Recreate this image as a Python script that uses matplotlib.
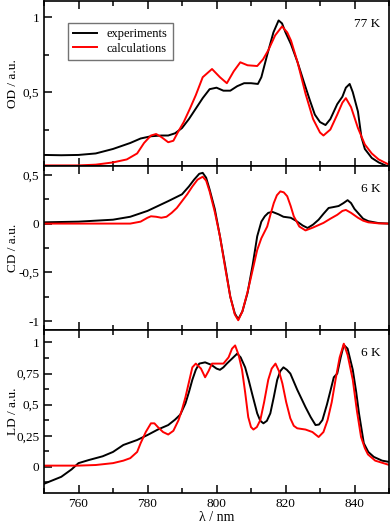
import numpy as np
import matplotlib.pyplot as plt
from matplotlib.ticker import MultipleLocator, FuncFormatter

plt.rcParams['font.family'] = 'Liberation Serif'
plt.rcParams['font.size'] = 9

# OD, 77 K
od_x_exp = [750, 755, 760, 765, 770, 775, 778, 781, 784, 786, 788, 790, 792, 794, 796, 798, 800,
            802, 804, 806, 808, 810, 812, 813, 814.7, 816.5, 818, 819, 820, 821.6, 823.5, 825.3,
            827, 828.5, 830, 831.6, 833, 835, 836.5, 837.5, 838.6, 839.5, 841, 842, 843, 845, 847, 850]
od_y_exp = [0.08, 0.078, 0.08, 0.09, 0.12, 0.16, 0.19, 0.205, 0.21, 0.21, 0.225, 0.26, 0.32, 0.39,
            0.46, 0.52, 0.53, 0.51, 0.51, 0.54, 0.56, 0.56, 0.555, 0.6, 0.75, 0.9, 0.98, 0.96, 0.9,
            0.82, 0.7, 0.57, 0.45, 0.35, 0.3, 0.28, 0.32, 0.42, 0.47, 0.53, 0.555, 0.5, 0.37, 0.2,
            0.12, 0.06, 0.03, 0.0]
od_x_calc = [750, 760, 765, 770, 774, 777, 779, 781, 782.5, 784, 786, 787.5, 789, 790.5, 792.3,
             794, 796, 798.7, 801, 803, 805, 806.9, 809, 811.8, 813.5, 815, 817, 819, 820.5, 821.6,
             823.5, 825.8, 828, 830, 831, 833, 835, 836.5, 837.5, 839, 841, 843, 845, 847, 850]
od_y_calc = [0.01, 0.01, 0.015, 0.03, 0.05, 0.09, 0.16, 0.21, 0.22, 0.2, 0.165, 0.175, 0.24, 0.3,
             0.39, 0.48, 0.6, 0.655, 0.6, 0.56, 0.64, 0.70, 0.68, 0.675, 0.72, 0.78, 0.88, 0.94,
             0.9, 0.845, 0.7, 0.49, 0.32, 0.23, 0.21, 0.25, 0.35, 0.43, 0.46, 0.4, 0.26, 0.15,
             0.09, 0.05, 0.015]

# CD, 6 K
cd_x_exp = [750, 760, 770, 775, 780, 783, 786, 790, 792, 793.5, 795, 796, 797, 798, 799.5, 801,
            802.5, 804, 805.3, 806.3, 807.5, 809, 810.5, 811.8, 813, 814, 815, 816.2, 818, 819.4,
            821.5, 823, 825, 826.4, 828, 829.6, 831, 832.5, 834, 835.4, 836.8, 838, 839, 840, 841,
            842.5, 844, 847, 850]
cd_y_exp = [0.013, 0.02, 0.04, 0.07, 0.13, 0.18, 0.23, 0.30, 0.38, 0.45, 0.51, 0.52, 0.47, 0.35,
            0.15, -0.13, -0.43, -0.75, -0.92, -0.98, -0.9, -0.71, -0.42, -0.13, 0.02, 0.075, 0.11,
            0.12, 0.095, 0.07, 0.06, 0.03, -0.02, -0.045, -0.01, 0.04, 0.1, 0.16, 0.17, 0.18, 0.21,
            0.24, 0.21, 0.15, 0.11, 0.05, 0.025, 0.005, 0.0]
cd_x_calc = [750, 775, 778, 780, 781, 782.5, 784, 785.5, 787, 788.5, 790, 791.5, 793, 794.5, 796,
             797, 798, 799.5, 801, 802.5, 804, 805.3, 806.3, 807.5, 809, 809.8, 811.8, 813, 814.7,
             815.7, 816.6, 817.5, 818.5, 819.5, 820.5, 821.5, 822.4, 824, 825.8, 828, 831, 833,
             835, 836.5, 837.5, 839, 841, 842.5, 844, 847, 850]
cd_y_calc = [0.0, 0.0, 0.02, 0.06, 0.075, 0.07, 0.06, 0.07, 0.11, 0.16, 0.23, 0.3, 0.38, 0.45,
             0.48, 0.44, 0.33, 0.12, -0.13, -0.45, -0.75, -0.93, -0.99, -0.9, -0.7, -0.58, -0.27,
             -0.15, -0.03, 0.1, 0.21, 0.29, 0.33, 0.32, 0.28, 0.18, 0.075, -0.03, -0.07, -0.04,
             0.007, 0.05, 0.09, 0.13, 0.14, 0.11, 0.06, 0.03, 0.013, 0.002, 0.0]

# LD, 6 K
ld_x_exp = [750, 755, 758, 760, 763, 767, 770, 773, 777, 780, 783, 786, 788, 789.5, 791, 792, 793,
            794, 795, 796.7, 798.5, 800, 801, 802, 803, 804.5, 806, 807, 808.3, 809.3, 810.3,
            811.8, 812.7, 813.6, 814.6, 815.6, 816.6, 817.6, 818.5, 819.4, 820.4, 821.4, 823.4,
            825.8, 827.3, 828.7, 829.7, 830.7, 832, 833.1, 834, 835, 836, 836.9, 838, 839.5,
            840.5, 841.3, 842.7, 844, 845.6, 848, 850]
ld_y_exp = [-0.136, -0.08, -0.02, 0.03, 0.055, 0.085, 0.12, 0.176, 0.216, 0.256, 0.30, 0.336, 0.38,
            0.42, 0.51, 0.6, 0.70, 0.78, 0.83, 0.84, 0.82, 0.79, 0.78, 0.80, 0.83, 0.87, 0.91,
            0.88, 0.80, 0.7, 0.59, 0.43, 0.37, 0.35, 0.37, 0.43, 0.56, 0.70, 0.77, 0.80, 0.78,
            0.75, 0.62, 0.48, 0.4, 0.336, 0.34, 0.376, 0.5, 0.62, 0.72, 0.75, 0.88, 0.98, 0.95,
            0.78, 0.6, 0.43, 0.19, 0.12, 0.08, 0.05, 0.04]
ld_x_calc = [750, 760, 765, 770, 773, 775, 777, 778, 779.5, 781, 782, 783, 784.5, 786, 787.5, 789,
             790, 791, 792, 793, 794, 795.5, 796.7, 797.7, 798.7, 800, 802, 803.5, 804.5, 805.4,
             806.4, 807.4, 808.3, 809.2, 810, 810.7, 811.7, 812.7, 813.8, 815, 816, 817.1, 818.1,
             819.1, 820.2, 821.4, 822.4, 823.4, 825.8, 827.8, 829.6, 831, 832.2, 833.4, 834.5,
             835.7, 836.9, 838, 839.5, 840.7, 841.9, 843, 843.9, 846, 850]
ld_y_calc = [0.01, 0.01, 0.015, 0.03, 0.05, 0.07, 0.12, 0.19, 0.28, 0.35, 0.35, 0.32, 0.28, 0.26,
             0.29, 0.376, 0.46, 0.56, 0.68, 0.80, 0.83, 0.79, 0.72, 0.77, 0.83, 0.83, 0.83, 0.88,
             0.95, 0.976, 0.9, 0.78, 0.6, 0.40, 0.32, 0.30, 0.32, 0.376, 0.52, 0.70, 0.79, 0.83,
             0.77, 0.67, 0.52, 0.39, 0.33, 0.31, 0.30, 0.28, 0.24, 0.28, 0.376, 0.52, 0.70, 0.88,
             0.99, 0.9, 0.70, 0.45, 0.24, 0.15, 0.10, 0.05, 0.016]

panels = [
    (od_x_exp, od_y_exp, od_x_calc, od_y_calc, 'OD / a.u.', '77 K', (0.006, 1.11), 0.5, 0.25),
    (cd_x_exp, cd_y_exp, cd_x_calc, cd_y_calc, 'CD / a.u.', '6 K', (-1.09, 0.59), 0.5, 0.25),
    (ld_x_exp, ld_y_exp, ld_x_calc, ld_y_calc, 'LD / a.u.', '6 K', (-0.21, 1.10), 0.25, 0.125),
]


def comma(v, pos):
    if abs(v - round(v)) < 1e-9:
        return '%d' % round(v)
    return ('%g' % v).replace('.', ',')


fig = plt.figure(figsize=(3.92, 5.25), dpi=100)
left, right = 44 / 392, 389 / 392
edges = [1, 166, 330, 493]
axes = []
for i, (xe, ye, xc, yc, ylab, temp, ylim, major, minor) in enumerate(panels):
    top = 1 - edges[i] / 525
    bot = 1 - edges[i + 1] / 525
    ax = fig.add_axes([left, bot, right - left, top - bot])
    ax.plot(xe, ye, color='black', lw=1.4, label='experiments')
    ax.plot(xc, yc, color='red', lw=1.4, label='calculations')
    ax.set_xlim(750, 850)
    ax.set_ylim(*ylim)
    ax.xaxis.set_major_locator(MultipleLocator(20))
    ax.xaxis.set_minor_locator(MultipleLocator(10))
    ax.yaxis.set_major_locator(MultipleLocator(major))
    ax.yaxis.set_minor_locator(MultipleLocator(minor))
    ax.yaxis.set_major_formatter(FuncFormatter(comma))
    ax.tick_params(which='both', direction='in', top=True, right=False, width=1.1)
    ax.tick_params(which='major', length=6, labelsize=9.5)
    ax.tick_params(which='minor', length=3.5)
    for s in ax.spines.values():
        s.set_linewidth(1.2)
    ax.set_ylabel(ylab, fontsize=9.5)
    ax.yaxis.set_label_coords(-0.072, 0.5)
    ax.text(0.975, 0.86, temp, transform=ax.transAxes, ha='right', va='center', fontsize=9.5)
    if i < 2:
        ax.tick_params(labelbottom=False)
    axes.append(ax)

axes[0].legend(loc='upper left', bbox_to_anchor=(0.07, 0.865), fontsize=9, handlelength=1.9,
               fancybox=False, edgecolor='0.45', framealpha=1, borderpad=0.4, labelspacing=0.2,
               borderaxespad=0)
axes[2].set_xlabel('λ / nm', fontsize=10, labelpad=1)

fig.savefig('out.png', dpi=100)
